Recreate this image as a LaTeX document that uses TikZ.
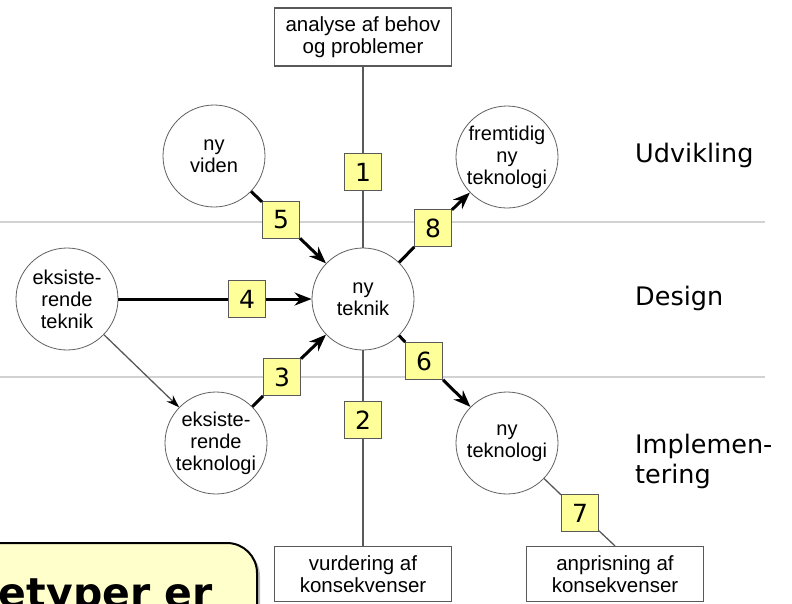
\documentclass[tikz,border=0pt]{standalone}
\usepackage{fontspec}
\setmainfont{Liberation Sans}
\newfontfamily\labelfont{DejaVu Sans}
\usetikzlibrary{arrows.meta}
\definecolor{numfill}{RGB}{255,255,153}
\definecolor{notefill}{RGB}{255,255,204}
\tikzset{
    phase/.style={circle,draw=gray!75!black,line width=0.8pt,fill=white,
        minimum size=102pt,inner sep=0pt,align=center,
        font=\fontsize{20}{22}\selectfont},
    numbox/.style={draw=gray!70!black,line width=1pt,fill=numfill,
        minimum size=37pt,inner sep=0pt,font=\labelfont\fontsize{25}{25}\selectfont},
    textbox/.style={draw=gray!70!black,line width=1.2pt,fill=white,
        minimum width=177pt,minimum height=55pt,inner sep=0pt,align=center,
        font=\fontsize{20.5}{21.5}\selectfont},
    stagelabel/.style={inner sep=0pt,align=left,
        font=\labelfont\fontsize{25.5}{30}\selectfont},
    thinline/.style={draw=gray!70!black,line width=1.3pt},
    thinarrow/.style={thinline,-{Stealth[length=13pt,width=9pt,color=black]}},
    thickline/.style={draw=black,line width=3pt},
    thickarrow/.style={thickline,-{Stealth[length=17pt,width=13pt]}},
}
\begin{document}
\begin{tikzpicture}[x=1pt,y=-1pt]
    \useasboundingbox (0,0) rectangle (792,603);
    % Stage separators
    \foreach \y in {222,377}
        \draw[gray!35,line width=2pt] (0,\y) -- (765,\y);
    % Note box, cut by the page edge
    \fill[gray!55,rounded corners=30pt] (-28,546) rectangle (260,660);
    \draw[black,fill=notefill,line width=2pt,rounded corners=30pt] (-30,543) rectangle (257,658);
    \node[anchor=base east,inner sep=0pt,font=\labelfont\bfseries\fontsize{41}{41}\selectfont]
        (note) at (213,607) {etyper er};
    % Stages
    \node[stagelabel,anchor=base west] (udvikling) at (635,162) {Udvikling};
    \node[stagelabel,anchor=base west] (design) at (635,305) {Design};
    \node[stagelabel,anchor=north west] (implementering) at (635,434) {Implemen-\\tering};
    % Boxes
    \node[textbox,minimum height=58pt] (analyse) at (363,37) {analyse af behov\\og problemer};
    \node[textbox] (vurdering) at (363,574) {vurdering af\\konsekvenser};
    \node[textbox] (anprisning) at (615,574) {anprisning af\\konsekvenser};
    % Circles
    \node[phase] (teknik) at (363,299) {ny\\teknik};
    \node[phase] (viden) at (214,156) {ny\\viden};
    \node[phase] (fremtidig) at (507,157) {fremtidig\\ny\\teknologi};
    \node[phase] (eksteknik) at (67,299) {eksiste-\\rende\\teknik};
    \node[phase] (eksteknologi) at (216,443) {eksiste-\\rende\\teknologi};
    \node[phase] (nyteknologi) at (507,443) {ny\\teknologi};
    % Numbers
    \foreach \n/\x/\y in {1/363/172,2/363/420,3/282/377,4/247/299,
                          5/281/220,6/424/361,7/580/513,8/433/228}
        \node[numbox] (n\n) at (\x,\y) {\n};
    % Thin lines
    \draw[thinline] (analyse) -- (n1);
    \draw[thinline] (n1) -- (teknik);
    \draw[thinline] (teknik) -- (n2);
    \draw[thinline] (n2) -- (vurdering);
    \draw[thinline] (nyteknologi) -- (n7);
    \draw[thinline] (n7) -- (anprisning.north);
    \draw[thinarrow] (eksteknik) -- (eksteknologi);
    % Thick arrows
    \draw[thickline] (viden) -- (n5);
    \draw[thickarrow] (n5) -- (teknik);
    \draw[thickline] (eksteknik) -- (n4);
    \draw[thickarrow] (n4) -- (teknik);
    \draw[thickline] (eksteknologi) -- (n3);
    \draw[thickarrow] (n3) -- (teknik);
    \draw[thickline] (teknik) -- (n8);
    \draw[thickarrow] (n8) -- (fremtidig);
    \draw[thickline] (teknik) -- (n6);
    \draw[thickarrow] (n6) -- (nyteknologi);
\end{tikzpicture}
\end{document}
